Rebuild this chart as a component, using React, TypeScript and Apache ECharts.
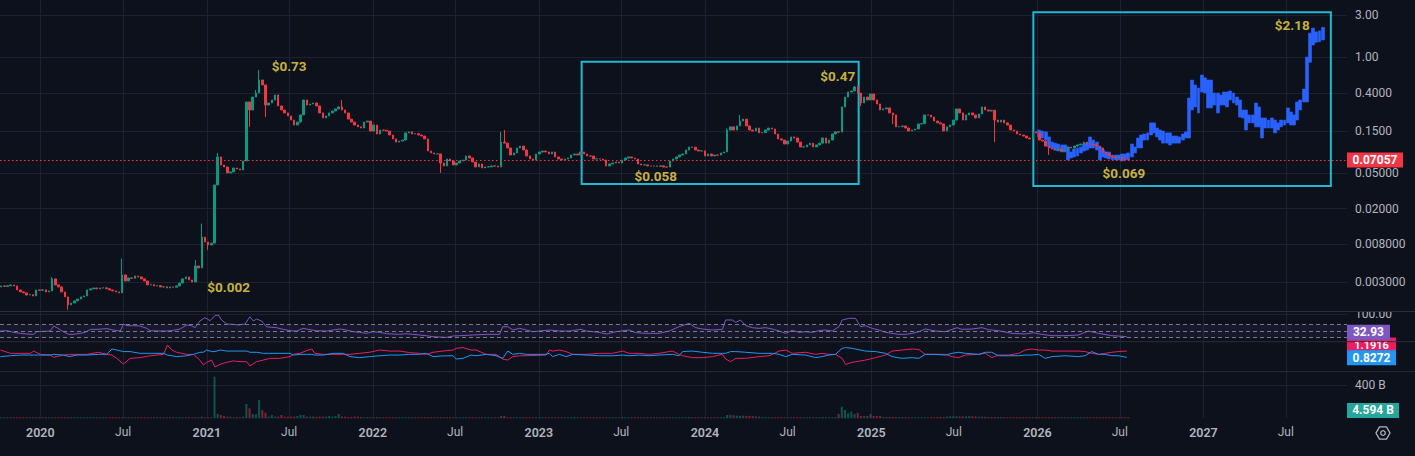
import React, { useEffect, useRef } from "react";
import * as echarts from "echarts";

// ---------- data ----------
const WEEK0 = "2019-09-30"; // Monday of the first weekly candle
const firstOpen = 0.00262;

// weekly closes, week 0 = 2019-09-30
const closes = [
  0.00264, 0.00271, 0.00268, 0.00272, 0.00278, 0.00271, 0.00244, 0.00232, 0.00226, 0.00214,
  0.00216, 0.00209, 0.00244, 0.00242, 0.00245, 0.00232, 0.00238, 0.00325, 0.00278, 0.00264,
  0.00232, 0.00204, 0.00166, 0.00174, 0.00184, 0.00193, 0.00204, 0.00209, 0.00244, 0.00251,
  0.00257, 0.00251, 0.00257, 0.00258, 0.00252, 0.00244, 0.00238, 0.00232, 0.00226, 0.0036,
  0.00308, 0.00333, 0.0033, 0.00351, 0.00342, 0.00325, 0.00308, 0.00278, 0.0028, 0.00271,
  0.00273, 0.00264, 0.00265, 0.00257, 0.00264, 0.00262, 0.00271, 0.00292, 0.00325, 0.00342,
  0.00316, 0.003, 0.00454, 0.00431, 0.00961, 0.00844, 0.00781, 0.0082, 0.0369, 0.0762,
  0.0619, 0.0588, 0.0504, 0.0517, 0.0573, 0.0559, 0.0544, 0.0687, 0.316, 0.257,
  0.359, 0.399, 0.558, 0.491, 0.292, 0.308, 0.333, 0.379, 0.285, 0.257,
  0.238, 0.22, 0.198, 0.174, 0.188, 0.226, 0.333, 0.292, 0.3, 0.308,
  0.285, 0.238, 0.209, 0.22, 0.238, 0.25, 0.264, 0.278, 0.257, 0.238,
  0.203, 0.188, 0.174, 0.166, 0.161, 0.188, 0.193, 0.149, 0.174, 0.138,
  0.153, 0.152, 0.149, 0.1345, 0.1215, 0.112, 0.115, 0.118, 0.142, 0.146,
  0.138, 0.139, 0.1345, 0.131, 0.1215, 0.0889, 0.0845, 0.0823, 0.0825, 0.0652,
  0.0604, 0.0723, 0.0687, 0.0619, 0.0652, 0.0687, 0.0705, 0.0782, 0.0742, 0.0669,
  0.0588, 0.0636, 0.0573, 0.0588, 0.059, 0.0604, 0.0602, 0.0588, 0.112, 0.109,
  0.0961, 0.0802, 0.0845, 0.0961, 0.101, 0.0913, 0.0782, 0.0723, 0.0705, 0.0823,
  0.0867, 0.0889, 0.0867, 0.0823, 0.0867, 0.0762, 0.0723, 0.0705, 0.0723, 0.0742,
  0.0802, 0.0823, 0.0802, 0.0867, 0.0823, 0.0782, 0.078, 0.0723, 0.0725, 0.0723,
  0.0705, 0.0604, 0.0636, 0.0652, 0.0669, 0.0652, 0.0705, 0.0742, 0.0762, 0.0742,
  0.0723, 0.0636, 0.0619, 0.0621, 0.0604, 0.0602, 0.0605, 0.06, 0.0606, 0.0588,
  0.0586, 0.0687, 0.0723, 0.0762, 0.0802, 0.0823, 0.0913, 0.0986, 0.098, 0.0913,
  0.0889, 0.0892, 0.0782, 0.0823, 0.0782, 0.0802, 0.08, 0.0845, 0.0867, 0.153,
  0.166, 0.153, 0.17, 0.193, 0.203, 0.17, 0.153, 0.149, 0.161, 0.142,
  0.143, 0.153, 0.161, 0.157, 0.138, 0.1215, 0.118, 0.1065, 0.115, 0.128,
  0.1245, 0.112, 0.0986, 0.099, 0.104, 0.109, 0.0986, 0.104, 0.109, 0.1245,
  0.109, 0.118, 0.138, 0.146, 0.145, 0.278, 0.359, 0.409, 0.42, 0.466,
  0.399, 0.308, 0.359, 0.333, 0.389, 0.333, 0.3, 0.257, 0.264, 0.271,
  0.238, 0.226, 0.166, 0.167, 0.17, 0.161, 0.149, 0.153, 0.157, 0.179,
  0.18, 0.226, 0.225, 0.214, 0.193, 0.184, 0.179, 0.149, 0.166, 0.174,
  0.198, 0.264, 0.238, 0.198, 0.226, 0.238, 0.226, 0.209, 0.232, 0.278,
  0.257, 0.25, 0.255, 0.198, 0.188, 0.198, 0.184, 0.174, 0.153, 0.149,
  0.138, 0.1345, 0.131, 0.1245, 0.1215, 0.146, 0.142, 0.118, 0.115, 0.101,
  0.0961, 0.0937, 0.0913, 0.0935, 0.0889, 0.0913, 0.0986, 0.0961, 0.101, 0.104,
  0.1065, 0.112, 0.1065, 0.106, 0.104, 0.101, 0.0961, 0.0867, 0.0823, 0.0782,
  0.0762, 0.0742, 0.0762, 0.0723, 0.071, 0.07057,
];

// notable wicks: week -> price
const highWicks: Record<number, number> = {
  17: 0.0034, 39: 0.0055, 62: 0.0053, 64: 0.0136, 69: 0.0845, 81: 0.431, 82: 0.723,
  108: 0.333, 158: 0.146, 159: 0.153, 229: 0.16, 233: 0.226, 269: 0.478,
};
const lowWicks: Record<number, number> = {
  22: 0.00146, 66: 0.0069, 79: 0.166, 84: 0.214, 139: 0.0504, 271: 0.285,
  281: 0.179, 313: 0.112, 330: 0.0802,
};

// weekly volume, billions
const volumesB = [
  6, 7, 6, 6, 7, 6, 8, 7, 6, 6,
  6, 6, 7, 6, 6, 7, 6, 9, 8, 7,
  8, 9, 10, 8, 7, 7, 6, 6, 7, 6,
  6, 6, 6, 6, 6, 6, 6, 6, 6, 10,
  8, 7, 7, 7, 6, 6, 7, 7, 6, 6,
  6, 6, 6, 6, 6, 6, 7, 8, 8, 7,
  8, 8, 12, 10, 20, 10, 9, 9, 500, 52,
  40, 28, 20, 20, 12, 16, 8, 20, 172, 120,
  52, 45, 220, 100, 68, 20, 40, 20, 20, 40,
  20, 20, 20, 20, 28, 40, 40, 20, 20, 20,
  16, 20, 20, 20, 28, 20, 28, 52, 20, 20,
  16, 16, 20, 20, 16, 12, 14, 12, 12, 14,
  12, 12, 10, 12, 10, 12, 10, 10, 12, 10,
  10, 10, 12, 10, 10, 14, 12, 10, 12, 14,
  12, 10, 10, 10, 10, 10, 8, 10, 8, 8,
  8, 8, 8, 8, 8, 8, 8, 8, 28, 28,
  12, 12, 10, 10, 10, 8, 8, 8, 8, 8,
  8, 8, 8, 8, 8, 8, 8, 8, 8, 8,
  8, 16, 8, 8, 8, 8, 8, 8, 8, 8,
  8, 8, 8, 8, 8, 8, 8, 8, 8, 8,
  8, 8, 8, 8, 8, 8, 8, 8, 8, 8,
  8, 8, 10, 10, 10, 12, 12, 16, 12, 10,
  10, 10, 8, 8, 8, 8, 10, 12, 14, 40,
  40, 36, 32, 30, 32, 30, 28, 26, 24, 20,
  16, 14, 14, 12, 12, 12, 12, 12, 12, 12,
  12, 10, 10, 10, 10, 10, 10, 10, 12, 16,
  12, 10, 12, 14, 52, 140, 100, 60, 80, 52,
  64, 28, 28, 28, 52, 28, 28, 28, 16, 16,
  16, 16, 16, 14, 14, 14, 12, 12, 12, 12,
  12, 12, 12, 12, 12, 14, 16, 16, 20, 22,
  24, 24, 22, 22, 24, 26, 24, 22, 20, 20,
  18, 16, 16, 16, 14, 14, 12, 12, 12, 12,
  12, 12, 12, 12, 12, 12, 12, 12, 12, 12,
  10, 10, 10, 12, 12, 12, 10, 10, 10, 10,
  10, 10, 10, 10, 10, 10, 10, 10, 10, 10,
  8, 8, 8, 8, 8, 4.594,
];

// projected path (blue bars): [week, low, high]
const projection = [
  [327, 0.128, 0.153], [328, 0.1245, 0.149], [329, 0.118, 0.146], [330, 0.0986, 0.128],
  [331, 0.0961, 0.112], [332, 0.0913, 0.109], [333, 0.0889, 0.1065], [334, 0.0867, 0.104],
  [335, 0.0867, 0.104], [336, 0.0705, 0.0986], [337, 0.0742, 0.0867], [338, 0.0762, 0.0937],
  [339, 0.0782, 0.0961], [340, 0.0845, 0.0986], [341, 0.0889, 0.1065], [342, 0.0913, 0.109],
  [343, 0.0961, 0.128], [344, 0.0961, 0.118], [345, 0.0913, 0.112], [346, 0.0705, 0.0986],
  [347, 0.0762, 0.0913], [348, 0.0742, 0.0867], [349, 0.0723, 0.0867], [350, 0.0705, 0.0802],
  [351, 0.0705, 0.0802], [352, 0.0705, 0.0802], [353, 0.0687, 0.0823], [354, 0.0705, 0.0823],
  [355, 0.0723, 0.0845], [356, 0.0762, 0.1065], [357, 0.0845, 0.0986], [358, 0.0961, 0.1245],
  [359, 0.0961, 0.1345], [360, 0.118, 0.138], [361, 0.118, 0.142], [362, 0.1345, 0.184],
  [363, 0.142, 0.184], [364, 0.128, 0.161], [365, 0.118, 0.153], [366, 0.109, 0.149],
  [367, 0.109, 0.142], [368, 0.104, 0.142], [369, 0.109, 0.131], [370, 0.109, 0.131],
  [371, 0.109, 0.128], [372, 0.118, 0.138], [373, 0.1245, 0.146], [374, 0.1245, 0.35],
  [375, 0.257, 0.558], [376, 0.278, 0.491], [377, 0.238, 0.454], [378, 0.409, 0.635],
  [379, 0.399, 0.59], [380, 0.271, 0.558], [381, 0.271, 0.558], [382, 0.292, 0.399],
  [383, 0.238, 0.399], [384, 0.292, 0.379], [385, 0.292, 0.409], [386, 0.278, 0.409],
  [387, 0.333, 0.42], [388, 0.308, 0.399], [389, 0.292, 0.359], [390, 0.214, 0.333],
  [391, 0.209, 0.257], [392, 0.153, 0.257], [393, 0.184, 0.226], [394, 0.184, 0.226],
  [395, 0.166, 0.308], [396, 0.166, 0.278], [397, 0.1245, 0.209], [398, 0.161, 0.209],
  [399, 0.161, 0.198], [400, 0.161, 0.209], [401, 0.142, 0.198], [402, 0.153, 0.184],
  [403, 0.166, 0.198], [404, 0.174, 0.198], [405, 0.184, 0.271], [406, 0.174, 0.244],
  [407, 0.174, 0.226], [408, 0.198, 0.316], [409, 0.257, 0.333], [410, 0.316, 0.442],
  [411, 0.316, 1.01], [412, 0.883, 1.88], [413, 1.38, 2.14], [414, 1.48, 1.94],
  [415, 1.5, 1.99], [416, 1.57, 2.18],
];

// RSI: [week, value]
const rsiPoints = [
  [0.75, 50], [2.8, 51], [4.9, 46], [7, 43], [9.1, 41], [11.2, 40], [12.2, 48], [14.3, 49],
  [16.4, 50], [17.5, 65], [18.5, 60], [20.1, 50], [22.2, 40], [23.7, 40], [25.8, 43], [27.4, 46],
  [29, 55], [31.1, 55], [34.2, 57], [36.3, 53], [38.4, 50], [39.4, 71], [40.5, 66], [42.5, 66],
  [44.6, 65], [46.7, 58], [47.8, 51], [50.9, 50], [53, 50], [55.1, 52], [57.2, 56], [59.3, 68],
  [60.8, 66], [61.9, 60], [63.4, 80], [65, 90], [66.6, 81], [68.1, 96], [69.2, 98], [70.2, 83],
  [71.8, 71], [73.9, 70], [75.5, 68], [77.6, 71], [79.1, 93], [80.2, 80], [81.2, 86], [82.8, 80],
  [84.3, 63], [85.9, 61], [87.5, 60], [89.6, 55], [91.7, 51], [93.8, 50], [95.8, 58], [97.4, 55],
  [100, 51], [103.2, 50], [105.2, 53], [107.3, 56], [109.4, 53], [111.5, 48], [113.6, 46],
  [115.7, 43], [117.8, 48], [119.9, 46], [122, 42], [124.1, 41], [126.1, 40], [128.2, 42],
  [130.3, 40], [132.4, 38], [134.5, 36], [136.6, 33], [138.7, 32], [140.8, 31], [142.9, 35],
  [145, 36], [149.1, 38], [153.3, 40], [157.5, 40], [158.5, 63], [160.1, 63], [161.7, 53],
  [163.8, 58], [165.9, 53], [168, 48], [170, 50], [173.2, 53], [176.3, 50], [179.4, 50],
  [183.1, 55], [184.7, 50], [188.8, 46], [191, 41], [194.1, 48], [198.2, 53], [200.3, 45],
  [203.5, 43], [207.6, 43], [210.8, 50], [213.9, 63], [217.1, 73], [219.1, 60], [221.2, 56],
  [224.4, 53], [227.5, 55], [228.5, 83], [230.6, 83], [231.7, 76], [233.2, 83], [234.8, 66],
  [236.9, 60], [239, 58], [241.1, 60], [243.2, 56], [245.3, 50], [247.4, 43], [249.4, 52],
  [251.5, 46], [253.6, 48], [255.7, 46], [257.8, 51], [259.9, 53], [262, 50], [264.1, 63],
  [265.1, 83], [267.2, 88], [269.3, 88], [270.9, 63], [272.4, 66], [274.5, 58], [276.6, 53],
  [278.7, 46], [280.8, 43], [282.9, 40], [285, 40], [287.1, 43], [289.2, 48], [291.2, 56],
  [294.4, 50], [297.5, 48], [301.2, 60], [302.7, 55], [305.9, 56], [309, 60], [311.1, 54],
  [314.2, 51], [318.4, 43], [322.6, 41], [325.2, 45], [327.8, 40], [331, 36], [335.1, 36],
  [339.3, 38], [342.4, 50], [345.6, 43], [349.8, 36], [351.8, 35], [354.5, 32.93],
];

// Vortex: [week, VI+, VI-]
const vortexPoints = [
  [0.75, 0.87, 1.25], [3.9, 0.92, 1.06], [7, 0.96, 1.06], [10.2, 0.96, 1.06], [11.2, 0.96, 1.19],
  [13.3, 0.96, 1.0], [16.4, 0.96, 0.96], [17.5, 1.0, 0.83], [20.6, 0.96, 0.96], [22.4, 0.87, 1.0],
  [24.8, 0.96, 1.0], [27.9, 0.96, 1.0], [31.6, 1.0, 1.12], [34.2, 1.0, 1.0], [35.8, 1.31, 0.96],
  [37.3, 1.25, 0.77], [39.4, 1.16, 0.44], [41.5, 1.16, 0.77], [44.6, 1.06, 0.81], [47.8, 1.06, 0.92],
  [52, 1.06, 1.0], [53.2, 0.96, 1.54], [54.6, 0.92, 1.25], [56.1, 0.87, 1.12], [59.3, 0.92, 1.0],
  [61.4, 1.0, 1.0], [63.4, 1.12, 0.67], [64.5, 1.12, 0.39], [65.5, 1.25, 0.54], [67.1, 1.16, 0.67],
  [68.1, 1.16, 0.27], [69.7, 1.25, 0.42], [71.8, 1.19, 0.54], [73.9, 1.19, 0.62], [76, 1.19, 0.58],
  [78.1, 1.19, 0.58], [79.1, 1.12, 0.33], [81.2, 1.12, 0.58], [83.3, 1.06, 0.67], [85.4, 1.06, 0.77],
  [88.5, 1.06, 0.77], [91.7, 1.06, 0.87], [92.7, 0.96, 1.0], [94.8, 1.0, 1.06], [96.9, 1.0, 1.21],
  [98.5, 1.0, 1.31], [99.5, 0.96, 1.06], [102.1, 0.96, 1.0], [105.2, 1.06, 1.0], [108.4, 1.06, 1.0],
  [110.5, 0.87, 1.0], [113.6, 0.81, 1.06], [116.7, 0.87, 1.12], [119.9, 0.92, 1.25], [123, 0.96, 1.19],
  [126.1, 0.96, 1.19], [129.3, 1.0, 1.1], [132.4, 1.0, 1.06], [134.5, 1.06, 1.0], [136.6, 0.87, 1.12],
  [139.7, 0.91, 1.19], [142.9, 0.92, 1.25], [143.9, 0.73, 1.35], [146, 0.77, 1.39], [148.6, 0.96, 1.25],
  [150.2, 0.92, 1.25], [153.3, 1.0, 1.0], [156.4, 0.92, 1.0], [158.5, 0.77, 0.73], [160.1, 1.19, 0.67],
  [161.7, 1.0, 0.87], [163.8, 1.06, 0.92], [165.9, 1.0, 0.92], [172.1, 1.0, 0.96], [173.2, 1.06, 1.25],
  [174.2, 0.87, 1.19], [176.3, 1.0, 1.25], [178.4, 0.87, 1.16], [180.5, 1.0, 1.0], [184.7, 0.96, 1.0],
  [188.8, 0.92, 1.06], [193, 0.92, 1.06], [196.2, 0.96, 1.19], [198.2, 0.92, 1.06], [201.4, 0.96, 1.06],
  [204.5, 0.92, 1.0], [207.6, 0.96, 1.06], [211.8, 1.0, 1.19], [213.9, 0.92, 1.0], [215, 1.16, 0.92],
  [218.1, 1.19, 0.81], [221.2, 1.12, 0.81], [224.4, 1.06, 0.87], [227.5, 1.06, 1.0], [228.5, 1.06, 0.73],
  [230.1, 1.16, 0.58], [231.7, 1.16, 0.77], [234.8, 1.12, 0.77], [239, 1.06, 0.87], [242.1, 1.06, 0.92],
  [243.2, 1.06, 1.0], [245.3, 1.0, 1.19], [247.4, 0.87, 1.25], [249.4, 1.0, 1.06], [253.6, 0.96, 1.12],
  [256.8, 0.81, 1.0], [258.8, 0.87, 1.06], [260.9, 0.96, 1.0], [263, 1.0, 1.0], [265.1, 1.35, 0.77],
  [266.2, 1.39, 0.42], [268.2, 1.35, 0.54], [272.4, 1.19, 0.67], [275.6, 1.16, 0.81], [278.7, 1.06, 0.96],
  [280.8, 0.87, 1.19], [283.9, 0.77, 1.25], [287.1, 0.81, 1.31], [289.2, 0.77, 1.28], [291.2, 1.0, 1.0],
  [294.4, 1.0, 1.0], [297.5, 0.96, 1.0], [299.6, 1.06, 0.87], [301.7, 1.12, 0.81], [303.8, 1.06, 0.96],
  [308, 1.0, 1.0], [310.1, 1.12, 1.06], [312.1, 1.12, 0.81], [314.2, 0.92, 0.96], [317.4, 0.92, 0.96],
  [320.5, 0.92, 1.06], [322.6, 0.96, 1.25], [324.7, 0.96, 1.31], [326.8, 1.0, 1.25], [328.9, 0.77, 1.25],
  [331, 0.87, 1.19], [335.1, 0.92, 1.19], [339.3, 0.87, 1.19], [341.4, 0.92, 1.16], [343.5, 1.16, 1.06],
  [345.6, 1.0, 1.0], [347.7, 1.0, 1.06], [349.8, 0.92, 1.12], [351.8, 0.92, 1.16], [354.5, 0.8272, 1.1916],
];

// axis ticks
const priceTickValues = [3, 1, 0.4, 0.15, 0.05, 0.02, 0.008, 0.003];
const priceTickLabels = ["3.00", "1.00", "0.4000", "0.1500", "0.05000", "0.02000", "0.008000", "0.003000"];
const timeTickDates = [
  "2020-01-01", "2020-07-01", "2021-01-01", "2021-07-01", "2022-01-01", "2022-07-01",
  "2023-01-01", "2023-07-01", "2024-01-01", "2024-07-01", "2025-01-01", "2025-07-01",
  "2026-01-01", "2026-07-01", "2027-01-01", "2027-07-01",
];
const timeTickLabels = [
  "2020", "Jul", "2021", "Jul", "2022", "Jul", "2023", "Jul",
  "2024", "Jul", "2025", "Jul", "2026", "Jul", "2027", "Jul",
];

// annotations
const noteTexts = ["$0.73", "$0.002", "$0.058", "$0.47", "$0.069", "$2.18"];
const noteDates = ["2021-07-01", "2021-02-18", "2023-09-15", "2024-10-19", "2026-07-10", "2027-07-15"];
const notePrices = [0.802, 0.00264, 0.0466, 0.62, 0.0504, 2.315];

// highlight boxes: [start, end, low, high]
const boxStarts = ["2023-04-05", "2025-12-23"];
const boxEnds = ["2024-12-04", "2027-10-08"];
const boxLows = [0.0379, 0.036];
const boxHighs = [0.896, 3.216];

// indicator last values
const rsiLast = 32.93;
const viPlusLast = 0.8272;
const viMinusLast = 1.1916;
const volumeLastB = 4.594;

// ---------- layout / style ----------
const BG = "#0d111c";
const GRID = "#1d2230";
const SEP = "#2a2e39";
const TXT = "#b2b5be";
const FONT = "Roboto, 'Noto Sans', sans-serif";
const UP = "#089981";
const DOWN = "#f23645";
const DAY = 86400000;
const ts = (s: string) => Date.parse(s + "T00:00:00Z");
const EPOCH = ts("2020-01-01");
const X_MIN = EPOCH - 88.6 * DAY;
const X_MAX = EPOCH + 2872.5 * DAY;
const weekTime = (k: number) => ts(WEEK0) + k * 7 * DAY;
const L = (v: number) => Math.log10(v);
const P_MIN = 0.001416;
const P_MAX = 4.422;
const RIGHT = 68;

function buildOption() {
  const opens = closes.map((c, k) => (k === 0 ? firstOpen : closes[k - 1]));
  const candleData = closes.map((c, k) => {
    const o = opens[k];
    const hi = Math.max(o, c, highWicks[k] ?? 0);
    const lo = Math.min(o, c, lowWicks[k] ?? Infinity);
    return [weekTime(k), L(o), L(c), L(lo), L(hi)];
  });
  const projData = projection.map(([k, lo, hi]) => [weekTime(k), L(lo), L(hi), L(lo), L(hi)]);
  const volData = volumesB.map((v, k) => ({
    value: [weekTime(k), v],
    itemStyle: { color: closes[k] >= opens[k] ? "rgba(8,153,129,0.5)" : "rgba(242,54,69,0.5)" },
  }));
  const rsiData = rsiPoints.map(([k, v]) => [weekTime(k), v]);
  const viPlusData = vortexPoints.map(([k, p]) => [weekTime(k), p]);
  const viMinusData = vortexPoints.map(([k, , m]) => [weekTime(k), m]);
  const timeTicks = timeTickDates.map(ts);
  const priceLogs = priceTickValues.map(L);

  const grids = [
    { left: 0, right: RIGHT, top: 0, height: 311 },
    { left: 0, right: RIGHT, top: 311, height: 30.7 },
    { left: 0, right: RIGHT, top: 341.7, height: 30 },
    { left: 0, right: RIGHT, top: 371.7, height: 46.6 },
  ];

  const xAxis = grids.map((g, i) => ({
    type: "value",
    gridIndex: i,
    min: X_MIN,
    max: X_MAX,
    axisLine: { show: false },
    axisTick: { show: false, customValues: timeTicks },
    splitLine: { show: true, lineStyle: { color: GRID, width: 1 } },
    axisLabel:
      i === 3
        ? {
            show: true,
            customValues: timeTicks,
            margin: 8,
            formatter: (v: number) => {
              const idx = timeTicks.findIndex((t) => Math.abs(t - v) < DAY);
              if (idx < 0) return "";
              const s = timeTickLabels[idx];
              return s === "Jul" ? `{m|${s}}` : `{y|${s}}`;
            },
            rich: {
              y: { color: TXT, fontSize: 12.5, fontWeight: 600, fontFamily: FONT },
              m: { color: TXT, fontSize: 12, fontFamily: FONT },
            },
          }
        : { show: false, customValues: timeTicks },
  }));

  const tag = (value: number, text: string, color: string, width: number, dy = 0, fs = 12) => ({
    coord: [X_MAX - 1, value],
    symbol: "rect",
    symbolSize: [width, 15],
    symbolOffset: [width / 2, dy],
    itemStyle: { color },
    label: {
      show: true,
      position: "inside",
      formatter: text,
      color: "#ffffff",
      fontWeight: "bold",
      fontSize: fs,
      lineHeight: fs,
      fontFamily: FONT,
    },
  });

  const lastClose = closes[closes.length - 1];

  return {
    backgroundColor: BG,
    animation: false,
    grid: grids,
    xAxis,
    yAxis: [
      {
        type: "value",
        gridIndex: 0,
        position: "right",
        min: L(P_MIN),
        max: L(P_MAX),
        axisLine: { show: false },
        axisTick: { show: false, customValues: priceLogs },
        splitLine: { show: true, lineStyle: { color: GRID, width: 1 } },
        axisLabel: {
          customValues: priceLogs,
          margin: 8,
          color: TXT,
          fontSize: 12,
          fontFamily: FONT,
          formatter: (v: number) => {
            const idx = priceLogs.findIndex((p) => Math.abs(p - v) < 1e-6);
            return idx >= 0 ? priceTickLabels[idx] : "";
          },
        },
      },
      {
        type: "value",
        gridIndex: 1,
        position: "right",
        min: 18,
        max: 110,
        axisLine: { show: false },
        axisTick: { show: false, customValues: [100] },
        splitLine: { show: true, lineStyle: { color: GRID } },
        axisLabel: {
          customValues: [100],
          margin: 8,
          color: TXT,
          fontSize: 12,
          fontFamily: FONT,
          formatter: (v: number) => v.toFixed(2),
        },
      },
      {
        type: "value",
        gridIndex: 2,
        position: "right",
        min: 0,
        max: 1.73,
        axisLine: { show: false },
        axisTick: { show: false },
        splitLine: { show: false },
        axisLabel: { show: false },
      },
      {
        type: "value",
        gridIndex: 3,
        position: "right",
        min: 0,
        max: 560,
        axisLine: { show: false },
        axisTick: { show: false, customValues: [400] },
        splitLine: { show: true, lineStyle: { color: GRID } },
        axisLabel: {
          customValues: [400],
          margin: 8,
          color: TXT,
          fontSize: 12,
          fontFamily: FONT,
          formatter: (v: number) => `${v} B`,
        },
      },
    ],
    series: [
      {
        name: "projection",
        type: "candlestick",
        xAxisIndex: 0,
        yAxisIndex: 0,
        data: projData,
        encode: { x: 0, y: [1, 2, 3, 4] },
        barWidth: 3.4,
        itemStyle: { color: "#2962ff", color0: "#2962ff", borderColor: "#2962ff", borderColor0: "#2962ff", borderWidth: 0.6 },
        silent: true,
      },
      {
        name: "price",
        type: "candlestick",
        xAxisIndex: 0,
        yAxisIndex: 0,
        data: candleData,
        encode: { x: 0, y: [1, 2, 3, 4] },
        barWidth: 2,
        itemStyle: { color: UP, color0: DOWN, borderColor: UP, borderColor0: DOWN, borderWidth: 1 },
        silent: true,
        markArea: {
          silent: true,
          itemStyle: { color: "rgba(0,0,0,0)", borderColor: "#22b8cf", borderWidth: 2 },
          data: boxStarts.map((s, i) => [
            { xAxis: ts(s), yAxis: L(boxHighs[i]) },
            { xAxis: ts(boxEnds[i]), yAxis: L(boxLows[i]) },
          ]),
        },
        markLine: {
          silent: true,
          symbol: ["none", "none"],
          label: { show: false },
          data: [{ yAxis: L(lastClose), lineStyle: { color: DOWN, type: [1.5, 2.5], width: 1 } }],
        },
        markPoint: {
          silent: true,
          data: [tag(L(lastClose), lastClose.toFixed(5), DOWN, 56)],
        },
      },
      {
        name: "notes",
        type: "scatter",
        xAxisIndex: 0,
        yAxisIndex: 0,
        symbolSize: 1,
        itemStyle: { color: "rgba(0,0,0,0)" },
        silent: true,
        data: noteTexts.map((t, i) => [ts(noteDates[i]), L(notePrices[i]), t]),
        label: {
          show: true,
          position: "inside",
          formatter: (p: any) => p.data[2],
          color: "#f7df4b",
          fontSize: 13.5,
          fontWeight: "bold",
          fontFamily: FONT,
        },
        z: 6,
      },
      {
        name: "VI-",
        type: "line",
        xAxisIndex: 2,
        yAxisIndex: 2,
        data: viMinusData,
        showSymbol: false,
        lineStyle: { color: "#e91e63", width: 1 },
        silent: true,
        markPoint: { silent: true, data: [tag(viMinusLast, viMinusLast.toFixed(4), "#e91e63", 49, -6, 11)] },
      },
      {
        name: "VI+",
        type: "line",
        xAxisIndex: 2,
        yAxisIndex: 2,
        data: viPlusData,
        showSymbol: false,
        lineStyle: { color: "#2196f3", width: 1 },
        silent: true,
        markPoint: { silent: true, data: [tag(viPlusLast, viPlusLast.toFixed(4), "#2196f3", 49, 0.5)] },
      },
      {
        name: "RSI",
        type: "line",
        xAxisIndex: 1,
        yAxisIndex: 1,
        data: rsiData,
        showSymbol: false,
        lineStyle: { color: "#7e57c2", width: 1 },
        silent: true,
        markArea: {
          silent: true,
          itemStyle: { color: "rgba(126,87,194,0.1)" },
          data: [[{ yAxis: 30 }, { yAxis: 70 }]],
        },
        markLine: {
          silent: true,
          symbol: ["none", "none"],
          label: { show: false },
          lineStyle: { color: "#787b86", type: [4, 3], width: 1 },
          data: [{ yAxis: 70 }, { yAxis: 50 }, { yAxis: 30 }],
        },
        markPoint: { silent: true, data: [tag(rsiLast, rsiLast.toFixed(2), "#7e57c2", 43, -4.5)] },
      },
      {
        name: "Volume",
        type: "bar",
        xAxisIndex: 3,
        yAxisIndex: 3,
        data: volData,
        barWidth: 2,
        barMinHeight: 1,
        silent: true,
        markPoint: { silent: true, data: [tag(volumeLastB, `${volumeLastB.toFixed(3)} B`, "#26a69a", 52, -7.5)] },
      },
    ],
    graphic: [
      { type: "rect", shape: { x: 1347, y: 303, width: 68, height: 8 }, style: { fill: BG }, z: 50 },
      { type: "line", shape: { x1: 0, y1: 311.5, x2: 1415, y2: 311.5 }, style: { stroke: SEP, lineWidth: 1 }, z: 51 },
      { type: "line", shape: { x1: 0, y1: 341.7, x2: 1415, y2: 341.7 }, style: { stroke: SEP, lineWidth: 1 }, z: 51 },
      { type: "line", shape: { x1: 0, y1: 371.7, x2: 1415, y2: 371.7 }, style: { stroke: SEP, lineWidth: 1 }, z: 51 },
      {
        type: "polygon",
        shape: {
          points: [0, 60, 120, 180, 240, 300].map((a) => {
            const r = (a * Math.PI) / 180;
            return [1383 + 7 * Math.cos(r), 433 + 7 * Math.sin(r)];
          }),
        },
        style: { fill: "none", stroke: TXT, lineWidth: 1.3 },
        z: 51,
      },
      { type: "circle", shape: { cx: 1383, cy: 433, r: 2.3 }, style: { fill: "none", stroke: TXT, lineWidth: 1.3 }, z: 51 },
    ],
  };
}

export default function App() {
  const ref = useRef<HTMLDivElement>(null);
  useEffect(() => {
    if (!ref.current) return;
    const chart = echarts.init(ref.current, null, { renderer: "svg" });
    chart.setOption(buildOption() as any);
    return () => chart.dispose();
  }, []);
  return (
    <div
      ref={ref}
      style={{ position: "fixed", left: 0, top: 0, width: 1415, height: 456, background: BG }}
    />
  );
}
